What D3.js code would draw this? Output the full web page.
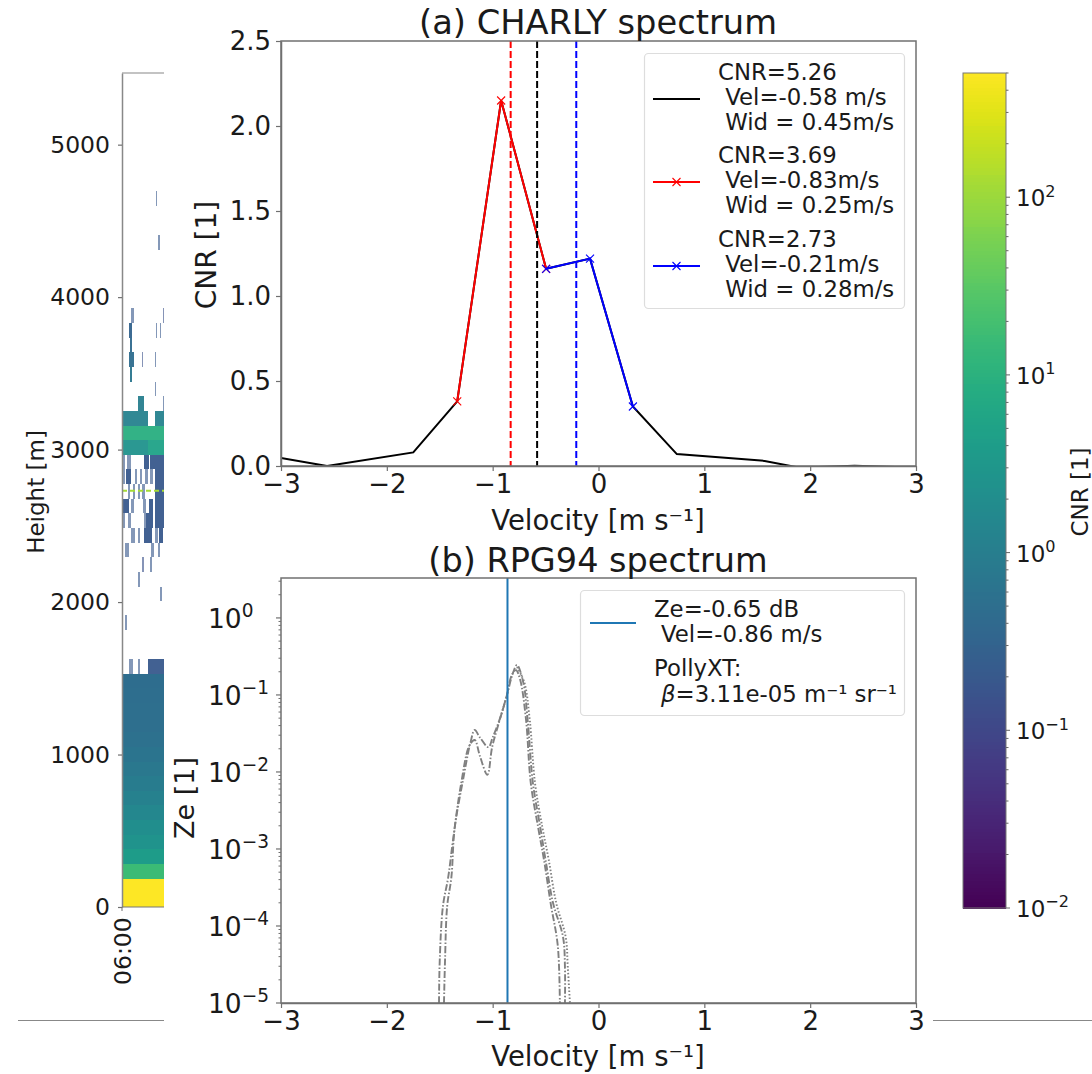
<!DOCTYPE html>
<html><head><meta charset="utf-8">
<script src="https://cdnjs.cloudflare.com/ajax/libs/d3/7.8.5/d3.min.js"></script>
<style>html,body{margin:0;padding:0;background:#fff}svg{display:block}
text{font-family:"DejaVu Sans",sans-serif;fill:#1a1a1a}</style></head><body>
<svg id="c" width="1092" height="1074"></svg>
<script>
// ---------- data ----------
const charlyBlackV=[-3,-2.565,-1.75,-1.335,-0.92,-0.495,-0.08,0.325,0.74,1.57,1.9,2.42,3];
const charlyBlackC=[0.047,0,0.08,0.38,2.15,1.16,1.22,0.35,0.07,0.03,-0.01,0.002,-0.01];
const charlyRedV=[-1.335,-0.92,-0.495];
const charlyRedC=[0.38,2.15,1.16];
const charlyBlueV=[-0.495,-0.08,0.325];
const charlyBlueC=[1.16,1.22,0.35];
const meanVelA=[-0.58,-0.83,-0.21];
const meanColorsA=["#000","#f00","#00f"];
const rpgVel=-0.86;

const zeDashV1=[-1.46,-1.45,-1.43,-1.39,-1.36,-1.28,-1.21,-1.17,-1.12,-1.04,-1.0,-0.93,-0.865,-0.81,-0.77,-0.71,-0.67,-0.62,-0.55,-0.5,-0.43,-0.335,-0.317,-0.317];
const zeDashZ1=[1e-5,3.6e-5,1.8e-4,4.3e-4,1.8e-3,7.9e-3,2.4e-2,3.5e-2,2.8e-2,2.1e-2,2.8e-2,5e-2,0.1,0.19,0.245,0.144,0.048,7.2e-3,1.9e-3,7.2e-4,2e-4,7.2e-5,2.9e-5,1e-5];
const zeDashV2=[-1.507,-1.5,-1.47,-1.42,-1.375,-1.3,-1.22,-1.17,-1.12,-1.05,-1.005,-0.94,-0.865,-0.82,-0.78,-0.74,-0.685,-0.64,-0.57,-0.515,-0.45,-0.385,-0.365];
const zeDashZ2=[1e-5,3.6e-5,1.8e-4,4.3e-4,1.3e-3,6.8e-3,2.2e-2,2.6e-2,1.6e-2,9.2e-3,2.1e-2,4.4e-2,0.1,0.18,0.21,0.157,0.048,7.2e-3,1.9e-3,7.2e-4,1.9e-4,5.6e-5,1e-5];
const zeDotV=[-0.77,-0.7,-0.65,-0.6,-0.53,-0.47,-0.4,-0.31,-0.29,-0.27];
const zeDotZ=[0.23,0.144,0.048,7.2e-3,1.9e-3,7.2e-4,2e-4,7.2e-5,2.9e-5,1e-5];

// heatmap: full-width low-level rows (edges in m, values CNR)
const lowEdges=[0,184,282,378,474,570,666,762,858,954,1050,1146,1242,1338,1434,1530];
const lowValues=[500,16,3.8,2.6,2,1.5,1.1,0.9,0.75,0.65,0.55,0.5,0.5,0.48,0.45];
// upper rows: [bottom height, [[t0,t1,CNR],...]] (t in minutes after 06:00)
const rowHeight=96;
const stripRows=[
[1530,[[6.5,8.5,.2],[9,11,.2],[16,17.5,.2],[26,30.5,.2],[31,42,.2]]],
[1818,[[3,4.5,.2]]],
[2006,[[38,39.5,.2]]],
[2102,[[16,17.5,.2]]],
[2198,[[20,21.5,.15],[28,29.5,.2]]],
[2294,[[3.3,6.7,.2],[29.3,32,.2],[36,37.7,.2]]],
[2390,[[9.3,12.7,.2],[16,17.7,.2],[22,30.3,.2],[33.3,36,.2],[36.7,41,.2]]],
[2486,[[.7,2.7,.2],[6,8.7,.2],[22,24.3,.2],[24.3,31,.2],[33.3,42,.2]]],
[2582,[[0,6.7,.2],[8.7,12,.2],[21,24.3,.2],[26.7,31,.2],[32.7,42,.2]]],
[2678,[[0,1.3,.2],[6,7.7,.2],[11,12.7,.2],[16,17.7,.2],[20,22.7,.2],[32.7,42,.2]]],
[2774,[[0,2.7,.2],[4.3,9.3,.2],[12.7,15.3,.2],[17.7,20,.2],[22.7,26,.2],[27.7,31,.2],[32.7,42,.2]]],
[2870,[[0,2.7,.2],[5.3,8.7,.2],[22,26.7,.2],[27.7,42,.2]]],
[2966,[[0,26,2.4],[26,42,5]]],
[3062,[[0,42,9]]],
[3158,[[0,26,1.2],[33,42,1.2]]],
[3254,[[16,22,1.0],[41,42,.2]]],
[3350,[[33,34.3,.2]]],
[3446,[[8,10,.7]]],
[3542,[[7,12,.45],[20,21,.15],[33,34.3,.2]]],
[3638,[[8,10,.4]]],
[3734,[[7,10,.3],[34,35.3,.2],[37.5,38.8,.2]]],
[3830,[[9,12,.2],[41,42,.15]]],
[4310,[[36.3,37.5,.2]]],
[4598,[[34,35.3,.2]]]
];
const limeHeight=2730;
const heightTicks=[0,1000,2000,3000,4000,5000];
const velocityTicks=[-3,-2,-1,0,1,2,3];
const cnrTicks=[0,0.5,1,1.5,2,2.5];
const zeExponents=[0,-1,-2,-3,-4,-5];
const cbarExponents=[-2,-1,0,1,2];
const legendA=[["CNR=5.26"," Vel=-0.58 m/s"," Wid = 0.45m/s"],["CNR=3.69"," Vel=-0.83m/s"," Wid = 0.25m/s"],["CNR=2.73"," Vel=-0.21m/s"," Wid = 0.28m/s"]];

// ---------- helpers ----------
const svg=d3.select("#c");
const spine="#707070";
const cmap=d3.scaleSequentialLog(d3.interpolateViridis).domain([0.01,500]);
function sup(sel,exp,size){
  sel.append("tspan").text("10");
  sel.append("tspan").attr("dy",-size*0.42).attr("font-size",size*0.7).text(String(exp).replace("-","\u2212"));
}
function styleAxis(g){g.selectAll("line").attr("stroke",spine).attr("stroke-width",1.2);
  g.selectAll("path").attr("stroke",spine).attr("stroke-width",1.5);}
function minors(lo,hi){const o=[];for(let e=lo;e<=hi;e++)for(let m=2;m<10;m++)o.push(m*Math.pow(10,e));return o;}

// ---------- left heatmap ----------
const hx=d3.scaleLinear([0,42],[122,164]);
const hy=d3.scaleLinear([0,5470],[907,73]);
const heat=svg.append("g").attr("shape-rendering","crispEdges");
heat.selectAll("rect.low").data(lowValues).join("rect").attr("class","low")
 .attr("x",hx(0)).attr("width",hx(42)-hx(0))
 .attr("y",(d,i)=>hy(lowEdges[i+1])).attr("height",(d,i)=>hy(lowEdges[i])-hy(lowEdges[i+1]))
 .attr("fill",d=>cmap(d));
stripRows.forEach(([h,cells])=>{
  heat.selectAll(null).data(cells).join("rect")
   .attr("x",d=>hx(d[0])).attr("width",d=>hx(d[1])-hx(d[0]))
   .attr("y",hy(h+rowHeight)).attr("height",hy(h)-hy(h+rowHeight))
   .attr("fill",d=>cmap(d[2]))
   .attr("opacity",d=>(d[2]<=0.2&&d[1]-d[0]<3.5)?0.62:0.95);
});
svg.append("line").attr("x1",hx(0)).attr("x2",hx(42)).attr("y1",hy(limeHeight)).attr("y2",hy(limeHeight))
 .attr("stroke","#a5db36").attr("stroke-width",1.8).attr("stroke-dasharray","5 3");
const hl=svg.append("g").attr("transform","translate(122,0)").call(d3.axisLeft(hy).tickValues(heightTicks).tickFormat(d3.format("d")).tickSize(4).tickPadding(8).tickSizeOuter(0));
hl.call(styleAxis);hl.select("path").attr("stroke","#888");hl.selectAll("text").attr("font-size",23.5).attr("font-family","DejaVu Sans").attr("fill","#1a1a1a");
svg.append("line").attr("x1",122).attr("x2",164).attr("y1",73).attr("y2",73).attr("stroke","#888").attr("stroke-width",1.2);
svg.append("line").attr("x1",122).attr("x2",164).attr("y1",907).attr("y2",907).attr("stroke","#777").attr("stroke-width",1);
svg.append("line").attr("x1",122).attr("x2",122).attr("y1",907).attr("y2",911).attr("stroke",spine);
svg.append("text").attr("transform","translate(131,985) rotate(-90)").attr("font-size",23.5).text("06:00");
svg.append("text").attr("transform","translate(44,492) rotate(-90)").attr("text-anchor","middle").attr("font-size",23).text("Height [m]");
[[18,164],[933,1092]].forEach(([a,b])=>svg.append("line").attr("x1",a).attr("x2",b).attr("y1",1020.5).attr("y2",1020.5).attr("stroke","#888").attr("stroke-width",1.2));

// ---------- panel (a) ----------
const ax=d3.scaleLinear([-3,3],[281,916]);
const ay=d3.scaleLinear([0,2.5],[466,41]);
svg.append("clipPath").attr("id","clipA").append("rect").attr("x",281).attr("y",41).attr("width",635).attr("height",425);
const pa=svg.append("g").attr("clip-path","url(#clipA)");
const lineA=(vs,cs)=>d3.line().x(i=>ax(vs[i])).y(i=>ay(cs[i]))(d3.range(vs.length));
pa.append("path").attr("d",lineA(charlyBlackV,charlyBlackC)).attr("fill","none").attr("stroke","#000").attr("stroke-width",2);
[[charlyRedV,charlyRedC,"#f00"],[charlyBlueV,charlyBlueC,"#00f"]].forEach(([v,c,col])=>{
  pa.append("path").attr("d",lineA(v,c)).attr("fill","none").attr("stroke",col).attr("stroke-width",2);
  pa.selectAll(null).data(d3.range(v.length)).join("path")
    .attr("transform",i=>`translate(${ax(v[i])},${ay(c[i])})`)
    .attr("d","M-4,-4L4,4M-4,4L4,-4").attr("stroke",col).attr("stroke-width",1.1).attr("fill","none");
});
pa.selectAll(null).data(meanVelA).join("line")
 .attr("x1",d=>ax(d)).attr("x2",d=>ax(d)).attr("y1",ay(2.5)).attr("y2",ay(0))
 .attr("stroke",(d,i)=>meanColorsA[i]).attr("stroke-width",2).attr("stroke-dasharray","7 3");

function frame(y0,y1){
  svg.append("rect").attr("x",281).attr("y",y0).attr("width",635).attr("height",y1-y0).attr("fill","none").attr("stroke",spine).attr("stroke-width",1.5);
}
frame(41,466);
function xAxis(y){
  const g=svg.append("g").attr("transform",`translate(0,${y})`).call(d3.axisBottom(ax).tickValues(velocityTicks).tickFormat(d3.format("d")).tickSize(5).tickPadding(4).tickSizeOuter(0));
  g.call(styleAxis);g.selectAll("text").attr("font-size",26).attr("font-family","DejaVu Sans").attr("fill","#1a1a1a");
}
xAxis(466);
const aL=svg.append("g").attr("transform","translate(281,0)").call(d3.axisLeft(ay).tickValues(cnrTicks).tickFormat(d3.format(".1f")).tickSize(5).tickPadding(5).tickSizeOuter(0));
aL.call(styleAxis);aL.selectAll("text").attr("font-size",26).attr("font-family","DejaVu Sans").attr("fill","#1a1a1a");
svg.append("text").attr("x",598).attr("y",34).attr("text-anchor","middle").attr("font-size",33.7).text("(a) CHARLY spectrum");
svg.append("text").attr("x",598).attr("y",530).attr("text-anchor","middle").attr("font-size",27.5).text("Velocity [m s\u207B\u00B9]");
svg.append("text").attr("transform","translate(216,255) rotate(-90)").attr("text-anchor","middle").attr("font-size",28).text("CNR [1]");

// legend a
svg.append("rect").attr("x",644.5).attr("y",53.5).attr("width",260).attr("height",255).attr("rx",4).attr("fill","#fff").attr("fill-opacity",.85).attr("stroke","#ddd").attr("stroke-width",1.2);
const legY=[80,163,247], legCol=["#000","#f00","#00f"];
legendA.forEach((ls,i)=>{
  ls.forEach((t,j)=>svg.append("text").attr("x",718).attr("y",legY[i]+j*25).attr("font-size",22.8).attr("xml:space","preserve").style("white-space","pre").text(t));
  const y=legY[i]+19;
  svg.append("line").attr("x1",653).attr("x2",700).attr("y1",y).attr("y2",y).attr("stroke",legCol[i]).attr("stroke-width",2);
  if(i>0)svg.append("path").attr("transform",`translate(676.5,${y})`).attr("d","M-4,-4L4,4M-4,4L4,-4").attr("stroke",legCol[i]).attr("stroke-width",1.1);
});

// ---------- panel (b) ----------
const by=d3.scaleLog([1e-5,3.3],[1003,578]);
const pb=svg.append("g");
const lineB=(vs,zs)=>d3.line().curve(d3.curveCatmullRom.alpha(0.5)).x(i=>ax(vs[i])).y(i=>by(zs[i]))(d3.range(vs.length));
[[zeDashV1,zeDashZ1,"7 2 1.5 2"],[zeDashV2,zeDashZ2,"7 2 1.5 2"],[zeDotV,zeDotZ,"1.5 2"]].forEach(([v,z,dash])=>
  pb.append("path").attr("d",lineB(v,z)).attr("fill","none").attr("stroke","#808080").attr("stroke-width",1.9).attr("stroke-dasharray",dash));
pb.append("line").attr("x1",ax(rpgVel)).attr("x2",ax(rpgVel)).attr("y1",578).attr("y2",1003).attr("stroke","#1f77b4").attr("stroke-width",2);
frame(578,1003);
xAxis(1003);
const bMinor=minors(-5,0).filter(v=>v<=3.3);
svg.append("g").selectAll("line").data(bMinor).join("line").attr("x1",278.5).attr("x2",281).attr("y1",d=>by(d)).attr("y2",d=>by(d)).attr("stroke",spine).attr("stroke-width",1);
svg.append("g").selectAll("line").data(zeExponents).join("line").attr("x1",276).attr("x2",281).attr("y1",d=>by(Math.pow(10,d))).attr("y2",d=>by(Math.pow(10,d))).attr("stroke",spine).attr("stroke-width",1.2);
svg.append("g").selectAll("text").data(zeExponents).join("text").attr("x",208).attr("y",d=>by(Math.pow(10,d))+10).attr("font-size",26.5).each(function(d){sup(d3.select(this),d,26.5);});
svg.append("text").attr("x",598).attr("y",572).attr("text-anchor","middle").attr("font-size",33.5).text("(b) RPG94 spectrum");
svg.append("text").attr("x",598).attr("y",1066).attr("text-anchor","middle").attr("font-size",27.5).text("Velocity [m s\u207B\u00B9]");
svg.append("text").attr("transform","translate(194,798) rotate(-90)").attr("text-anchor","middle").attr("font-size",27).text("Ze [1]");
// legend b
svg.append("rect").attr("x",580.5).attr("y",590.5).attr("width",324).attr("height",125).attr("rx",4).attr("fill","#fff").attr("fill-opacity",.85).attr("stroke","#ddd").attr("stroke-width",1.2);
svg.append("line").attr("x1",590).attr("x2",636).attr("y1",623).attr("y2",623).attr("stroke","#1f77b4").attr("stroke-width",2);
const tB=(x,y,t)=>svg.append("text").attr("x",x).attr("y",y).attr("font-size",22.8).text(t);
tB(654,617,"Ze=-0.65 dB");tB(661,642,"Vel=-0.86 m/s");tB(654,676,"PollyXT:");
const bt=tB(661,702,"");bt.append("tspan").attr("font-style","italic").text("\u03B2");bt.append("tspan").text("=3.11e-05 m\u207B\u00B9 sr\u207B\u00B9");

// ---------- colour bar ----------
const cy=d3.scaleLog([0.01,500],[908,73]);
const cb=svg.append("g").attr("shape-rendering","crispEdges");
const steps=d3.range(0,240);
const cval=i=>Math.pow(10,-2+i*(Math.log10(500)+2)/240);
cb.selectAll("rect").data(steps).join("rect").attr("x",963).attr("width",43)
 .attr("y",i=>cy(cval(i+1))).attr("height",i=>cy(cval(i))-cy(cval(i+1))+1).attr("fill",i=>cmap(cval(i)));
svg.append("rect").attr("x",963).attr("y",73).attr("width",43).attr("height",835).attr("fill","none").attr("stroke","#777").attr("stroke-width",1);
const cMinor=minors(-2,2).filter(v=>v<=500);
svg.append("g").selectAll("line").data(cMinor).join("line").attr("x1",1006).attr("x2",1008.5).attr("y1",d=>cy(d)).attr("y2",d=>cy(d)).attr("stroke","#666").attr("stroke-width",1);
svg.append("g").selectAll("line").data(cbarExponents).join("line").attr("x1",1006).attr("x2",1010).attr("y1",d=>cy(Math.pow(10,d))).attr("y2",d=>cy(Math.pow(10,d))).attr("stroke","#666").attr("stroke-width",1);
svg.append("g").selectAll("text").data(cbarExponents).join("text").attr("x",1016).attr("y",d=>cy(Math.pow(10,d))+9).attr("font-size",23).each(function(d){sup(d3.select(this),d,23);});
svg.append("text").attr("transform","translate(1088,492) rotate(-90)").attr("text-anchor","middle").attr("font-size",23).text("CNR [1]");
</script></body></html>
